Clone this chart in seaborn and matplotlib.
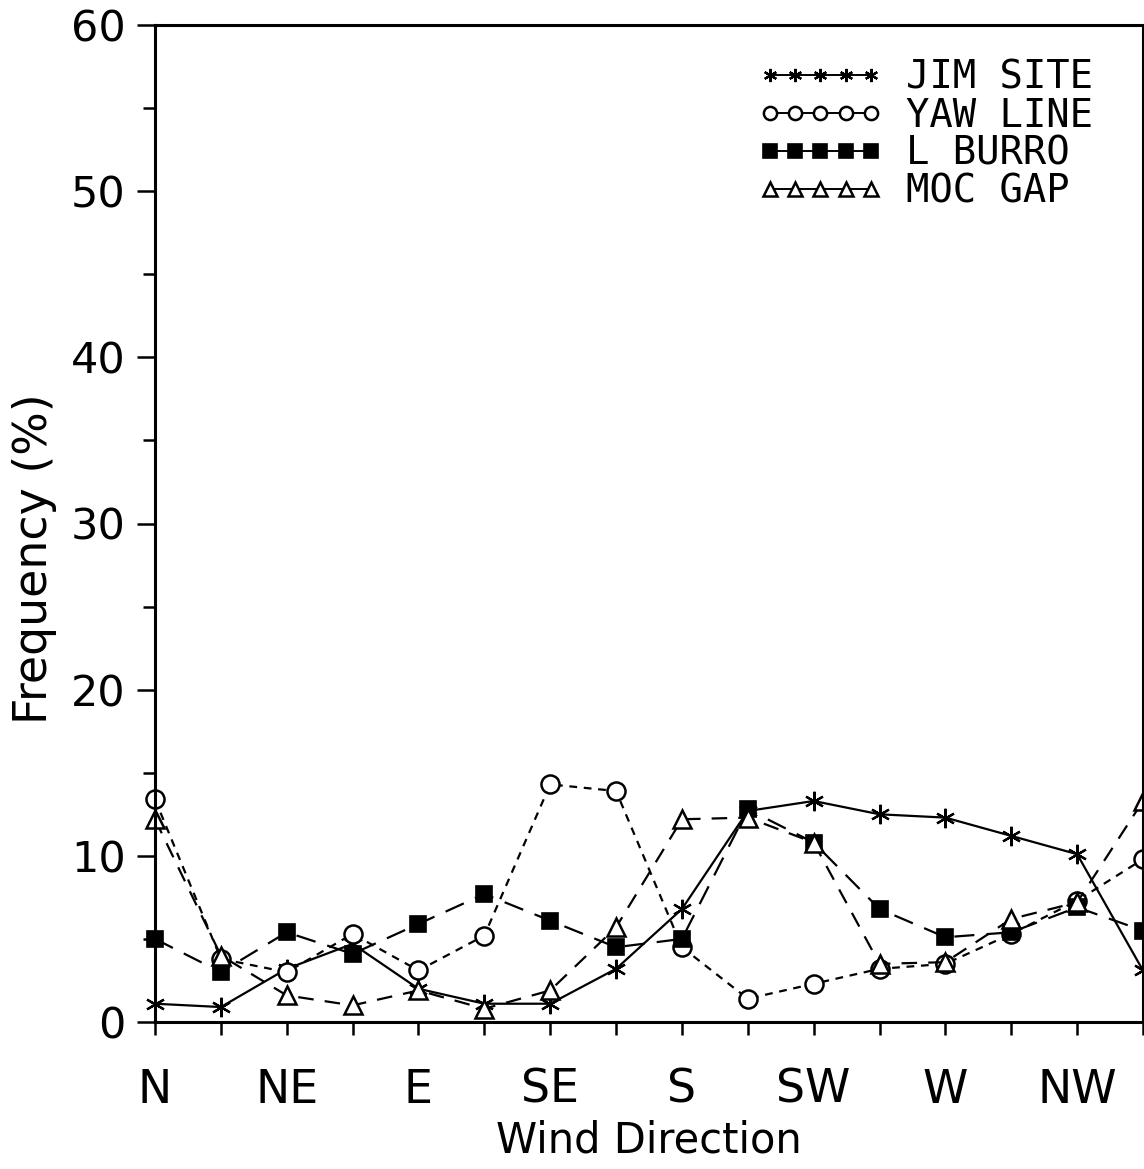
import matplotlib
matplotlib.use("Agg")
import matplotlib.pyplot as plt
import seaborn as sns
import numpy as np

# Wind direction sectors (16-point compass, N through NNW)
directions = ["N", "NNE", "NE", "ENE", "E", "ESE", "SE", "SSE",
              "S", "SSW", "SW", "WSW", "W", "WNW", "NW", "NNW"]
tick_labels = ["N", "", "NE", "", "E", "", "SE", "",
               "S", "", "SW", "", "W", "", "NW", ""]

# Frequency (%) of wind from each sector, per site
jim_site = [1.1, 0.9, 3.2, 4.7, 2.0, 1.1, 1.1, 3.2, 6.8, 12.7, 13.3, 12.5, 12.3, 11.2, 10.1, 3.1]
yaw_line = [13.4, 3.8, 3.0, 5.3, 3.1, 5.2, 14.3, 13.9, 4.5, 1.4, 2.3, 3.2, 3.5, 5.3, 7.3, 9.8]
l_burro = [5.0, 3.0, 5.4, 4.1, 5.9, 7.7, 6.1, 4.5, 5.0, 12.8, 10.8, 6.8, 5.1, 5.4, 6.9, 5.5]
moc_gap = [12.2, 4.0, 1.6, 1.0, 1.9, 0.8, 1.9, 5.7, 12.2, 12.3, 10.8, 3.5, 3.6, 6.2, 7.2, 13.3]

sns.set_theme(style="white")
plt.rcParams["font.family"] = ["DejaVu Sans"]
plt.rcParams.update({"text.color": "black", "axes.labelcolor": "black",
                     "xtick.color": "black", "ytick.color": "black"})

W, H = 1144, 1169
fig = plt.figure(figsize=(W / 100, H / 100), dpi=100)
ax = fig.add_axes([155 / W, 1 - 1022 / H, 988 / W, 997 / H])

x = np.arange(len(directions))

series = [
    ("JIM SITE", jim_site, dict(marker=(6, 2, 0), markersize=14, markeredgewidth=1.6,
                                linestyle="-", markerfacecolor="black")),
    ("YAW LINE", yaw_line, dict(marker="o", markersize=13, markeredgewidth=1.8,
                                linestyle=(0, (3.5, 3.0)), markerfacecolor="white")),
    ("L BURRO", l_burro, dict(marker="s", markersize=11.5, markeredgewidth=1.2,
                              linestyle=(0, (9, 5.5)), markerfacecolor="black")),
    ("MOC GAP", moc_gap, dict(marker="^", markersize=13, markeredgewidth=1.8,
                              linestyle=(0, (7, 5)), markerfacecolor="white")),
]

for name, vals, kws in series:
    sns.lineplot(x=x, y=vals, ax=ax, color="black", linewidth=1.6,
                 markeredgecolor="black", label=name, clip_on=False, **kws)

ax.set_xlim(0, 15)
ax.set_ylim(0, 60)
ax.set_xticks(x)
ax.set_xticklabels(tick_labels, fontsize=33)
ax.set_yticks(np.arange(0, 61, 10))
ax.set_yticks(np.arange(5, 60, 10), minor=True)
ax.tick_params(axis="y", which="major", direction="out", length=13, width=1.8,
               labelsize=31, pad=8, left=True)
ax.tick_params(axis="y", which="minor", direction="out", length=9, width=1.8, left=True)
ax.tick_params(axis="x", which="major", direction="out", length=9, width=1.8,
               labelsize=33, pad=24, bottom=True)

for side in ["left", "right", "top", "bottom"]:
    ax.spines[side].set_visible(True)
    ax.spines[side].set_color("black")
    ax.spines[side].set_linewidth(2.2)

ax.set_xlabel("Wind Direction", fontsize=30, labelpad=5)
ax.set_ylabel("")
ax.text(-0.1215, 0.465, "Frequency (%)", transform=ax.transAxes, rotation=90,
        ha="center", va="center", fontsize=33)

leg = ax.legend(loc="upper right", bbox_to_anchor=(0.965, 0.982), frameon=False,
                numpoints=5, handlelength=3.2, handletextpad=0.6, labelspacing=0.0,
                borderaxespad=0.0, prop={"family": "DejaVu Sans Mono", "size": 28})
for line in leg.get_lines():
    line.set_linestyle("-")
    line.set_linewidth(1.4)
    line.set_markersize(9.5)

fig.savefig("out.png", dpi=100, facecolor="white")
